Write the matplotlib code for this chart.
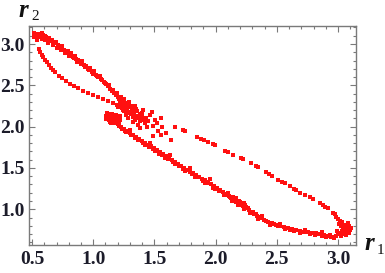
import matplotlib
matplotlib.use('Agg')
import matplotlib.pyplot as plt
from matplotlib.ticker import MultipleLocator

# upper band, from the top-left corner down to the cluster
upper_r1 = [0.516, 0.525, 0.533, 0.541, 0.549, 0.557, 0.565, 0.574, 0.582, 0.590,
            0.598, 0.614, 0.623, 0.639, 0.647, 0.663, 0.680, 0.696, 0.712, 0.729,
            0.745, 0.761, 0.778, 0.794, 0.810, 0.818, 0.835, 0.851, 0.859, 0.876,
            0.892, 0.908, 0.925, 0.941, 0.958, 0.974, 0.990, 1.007, 1.023, 1.039,
            1.056, 1.072, 1.088, 1.105, 1.121, 1.137, 1.154, 1.170, 1.186, 1.203,
            0.606, 0.631, 0.672, 0.704, 0.737, 0.769, 0.802, 0.843, 0.867, 0.900,
            0.933, 0.966, 0.998, 1.031, 1.064, 1.096, 1.129, 1.162, 1.194, 0.541,
            0.516, 0.582, 0.606]
upper_r2 = [3.133, 3.097, 3.121, 3.073, 3.109, 3.085, 3.121, 3.097, 3.060, 3.109,
            3.085, 3.085, 3.060, 3.073, 3.036, 3.048, 3.012, 3.024, 2.988, 2.964,
            2.976, 2.927, 2.903, 2.915, 2.867, 2.891, 2.843, 2.855, 2.819, 2.807,
            2.782, 2.794, 2.746, 2.734, 2.698, 2.710, 2.661, 2.674, 2.625, 2.601,
            2.613, 2.565, 2.541, 2.516, 2.492, 2.456, 2.432, 2.408, 2.383, 2.359,
            3.048, 3.012, 2.988, 2.952, 2.927, 2.891, 2.855, 2.831, 2.782, 2.758,
            2.722, 2.686, 2.637, 2.613, 2.577, 2.528, 2.504, 2.444, 2.408, 3.048,
            3.085, 3.133, 3.097]

# thin inner line below the band
inner_r1 = [0.557, 0.565, 0.582, 0.590, 0.606, 0.623, 0.639, 0.655, 0.672, 0.688,
            0.721, 0.745, 0.778, 0.810, 0.843, 0.876, 0.917, 0.958, 0.998, 1.039,
            1.080, 1.121, 1.162, 1.194]
inner_r2 = [2.940, 2.903, 2.867, 2.843, 2.807, 2.782, 2.746, 2.710, 2.686, 2.661,
            2.613, 2.589, 2.553, 2.516, 2.492, 2.468, 2.432, 2.408, 2.383, 2.359,
            2.335, 2.311, 2.287, 2.262]

# scattered cluster around r1 ~ 1.3
cluster_r1 = [1.211, 1.227, 1.235, 1.252, 1.219, 1.244, 1.268, 1.260, 1.284, 1.276,
              1.301, 1.235, 1.252, 1.293, 1.317, 1.309, 1.333, 1.268, 1.284, 1.325,
              1.350, 1.341, 1.366, 1.382, 1.358, 1.382, 1.399, 1.415, 1.431, 1.423,
              1.448, 1.464, 1.440, 1.489, 1.505, 1.529, 1.554, 1.562, 1.489, 1.554,
              1.636, 1.668, 1.382, 1.407, 1.341, 1.293, 1.203, 1.325, 1.366, 1.481,
              1.521, 1.595, 1.244, 1.317, 1.276, 1.350, 1.227, 1.399]
cluster_r2 = [2.335, 2.359, 2.311, 2.335, 2.287, 2.262, 2.287, 2.238, 2.262, 2.214,
              2.238, 2.226, 2.190, 2.178, 2.202, 2.153, 2.165, 2.141, 2.105, 2.117,
              2.129, 2.081, 2.105, 2.153, 2.190, 2.069, 2.117, 2.081, 2.105, 2.044,
              2.069, 2.141, 1.996, 2.008, 2.081, 1.948, 2.105, 1.996, 1.887, 1.899,
              1.839, 1.996, 1.984, 2.202, 2.250, 2.299, 2.238, 2.057, 2.020, 2.178,
              2.044, 1.924, 2.202, 2.250, 2.165, 2.214, 2.262, 2.165]

# dense blob where the lower branch starts
blob_r1 = [1.105, 1.113, 1.121, 1.129, 1.137, 1.145, 1.154, 1.162, 1.170, 1.178,
           1.186, 1.194, 1.203, 1.211, 1.219, 1.121, 1.137, 1.154, 1.170, 1.186,
           1.105, 1.129, 1.145, 1.162, 1.178, 1.194, 1.211, 1.113, 1.219]
blob_r2 = [2.129, 2.105, 2.153, 2.081, 2.129, 2.105, 2.153, 2.069, 2.117, 2.093,
           2.141, 2.057, 2.105, 2.081, 2.129, 2.117, 2.057, 2.093, 2.141, 2.069,
           2.093, 2.141, 2.044, 2.129, 2.044, 2.117, 2.033, 2.165, 2.081]

# lower branch
lower_r1 = [1.203, 1.227, 1.252, 1.276, 1.301, 1.325, 1.350, 1.374, 1.399, 1.423,
            1.448, 1.472, 1.497, 1.521, 1.546, 1.570, 1.595, 1.619, 1.644, 1.668,
            1.693, 1.717, 1.742, 1.766, 1.791, 1.815, 1.840, 1.864, 1.889, 1.913,
            1.938, 1.962, 1.987, 2.011, 2.036, 2.060, 2.085, 2.109, 2.126, 2.142,
            2.158, 2.175, 2.191, 2.207, 2.224, 2.240, 2.256, 2.273, 2.289, 2.314,
            2.338, 2.363, 2.395, 2.428, 2.461, 2.493, 2.526, 2.559, 2.592, 2.624,
            2.657, 2.690, 2.722, 2.755, 2.788, 2.820, 2.853, 2.886, 2.918, 2.943,
            1.260, 1.342, 1.423, 1.505, 1.587, 1.668, 1.750, 1.832, 1.913, 1.995,
            2.077, 2.134, 2.183, 2.232, 2.281, 2.346, 2.444, 2.567, 2.690, 2.812,
            2.902, 1.301, 1.464, 1.627, 1.791, 1.954, 2.101, 2.166, 2.232, 2.379,
            2.526, 2.730, 2.869,
            1.211, 1.235, 1.268, 1.309, 1.366, 1.407, 1.456, 1.489, 1.538, 1.562,
            1.611, 1.652, 1.701, 1.734, 1.807, 1.848, 1.897, 1.930, 1.979, 2.028,
            2.068, 2.093, 2.117, 2.150, 2.166, 2.199, 2.215, 2.248, 2.264, 2.306,
            2.330, 2.371, 2.412, 2.477, 2.510, 2.608, 2.641, 2.706, 2.771, 2.837,
            2.869, 2.935, 2.959]
lower_r2 = [2.033, 1.996, 1.972, 1.948, 1.924, 1.899, 1.875, 1.851, 1.827, 1.803,
            1.778, 1.766, 1.742, 1.718, 1.694, 1.670, 1.645, 1.621, 1.597, 1.573,
            1.549, 1.525, 1.500, 1.476, 1.452, 1.440, 1.416, 1.392, 1.367, 1.355,
            1.331, 1.307, 1.283, 1.259, 1.235, 1.211, 1.186, 1.162, 1.138, 1.150,
            1.114, 1.090, 1.102, 1.065, 1.041, 1.053, 1.017, 0.993, 0.969, 0.944,
            0.920, 0.896, 0.872, 0.848, 0.836, 0.812, 0.799, 0.787, 0.775, 0.763,
            0.751, 0.739, 0.727, 0.727, 0.715, 0.715, 0.703, 0.691, 0.679, 0.666,
            1.948, 1.863, 1.779, 1.706, 1.621, 1.549, 1.464, 1.392, 1.319, 1.247,
            1.174, 1.102, 1.053, 1.005, 0.957, 0.884, 0.812, 0.763, 0.715, 0.691,
            0.666, 1.960, 1.803, 1.658, 1.500, 1.367, 1.198, 1.138, 1.078, 0.920,
            0.824, 0.751, 0.727,
            2.008, 1.972, 1.936, 1.899, 1.839, 1.803, 1.754, 1.730, 1.670, 1.658,
            1.609, 1.573, 1.525, 1.488, 1.428, 1.392, 1.343, 1.319, 1.259, 1.223,
            1.174, 1.174, 1.150, 1.126, 1.090, 1.090, 1.053, 1.029, 1.017, 0.969,
            0.944, 0.908, 0.860, 0.824, 0.799, 0.751, 0.739, 0.727, 0.703, 0.703,
            0.679, 0.691, 0.666]

# sparse upper-right line
sparse_r1 = [1.734, 1.750, 1.848, 1.881, 1.905, 1.938, 1.979, 1.995, 2.077, 2.101,
             2.142, 2.208, 2.224, 2.289, 2.330, 2.346, 2.412, 2.436, 2.461, 2.510,
             2.542, 2.567, 2.608, 2.641, 2.657, 2.690, 2.730, 2.771, 2.796, 2.853,
             2.877, 2.894, 2.918]
sparse_r2 = [1.960, 1.948, 1.875, 1.851, 1.839, 1.815, 1.791, 1.779, 1.706, 1.694,
             1.658, 1.622, 1.610, 1.561, 1.525, 1.513, 1.452, 1.428, 1.404, 1.355,
             1.331, 1.319, 1.283, 1.247, 1.235, 1.199, 1.174, 1.150, 1.126, 1.078,
             1.053, 1.029, 1.017]

# knot in the lower right corner
corner_r1 = [2.959, 2.975, 2.984, 3.000, 3.016, 3.008, 3.033, 3.025, 3.049, 3.041,
             3.066, 3.057, 3.074, 3.082, 3.090, 3.082, 3.066, 3.090, 3.033, 3.016,
             3.000, 2.984, 2.967, 2.992, 3.049, 3.025, 3.098, 3.106]
corner_r2 = [0.957, 0.944, 0.908, 0.884, 0.860, 0.824, 0.848, 0.799, 0.812, 0.775,
             0.787, 0.751, 0.727, 0.763, 0.799, 0.836, 0.691, 0.715, 0.739, 0.715,
             0.703, 0.679, 0.655, 0.739, 0.703, 0.679, 0.751, 0.775]

x_ticks = [0.5, 1.0, 1.5, 2.0, 2.5, 3.0]
y_ticks = [1.0, 1.5, 2.0, 2.5, 3.0]

fig = plt.figure(figsize=(3.85, 2.73), dpi=100)
ax = fig.add_axes([0.0753, 0.1026, 0.8494, 0.8022])

segments = [(upper_r1, upper_r2), (inner_r1, inner_r2), (cluster_r1, cluster_r2),
            (blob_r1, blob_r2), (lower_r1, lower_r2), (sparse_r1, sparse_r2),
            (corner_r1, corner_r2)]
for xs, ys in segments:
    ax.plot(xs, ys, linestyle='none', marker='s', ms=2.2, mew=0, color='#ff1010')

ax.set_xlim(0.475, 3.147)
ax.set_ylim(0.568, 3.218)
ax.set_xticks(x_ticks)
ax.set_yticks(y_ticks)
ax.set_xticklabels(['%.1f' % v for v in x_ticks])
ax.set_yticklabels(['%.1f' % v for v in y_ticks])
ax.xaxis.set_minor_locator(MultipleLocator(0.1))
ax.yaxis.set_minor_locator(MultipleLocator(0.1))

frame_col = '#7a7a7a'
for sp in ax.spines.values():
    sp.set_color(frame_col)
    sp.set_linewidth(1.0)
ax.tick_params(which='both', direction='in', top=True, right=True,
               color=frame_col, width=0.8)
ax.tick_params(which='major', length=4)
ax.tick_params(which='minor', length=2)
ax.tick_params(axis='x', pad=4)
ax.tick_params(axis='y', pad=3)
for lab in ax.get_xticklabels() + ax.get_yticklabels():
    lab.set_fontfamily('Liberation Serif')
    lab.set_fontweight('bold')
    lab.set_fontsize(14)
    lab.set_color('#1c1c2a')

# axis names in the corners, Mathematica style
fig.text(18 / 385, 1 - 17 / 273, 'r', family='Liberation Serif', weight='bold',
         style='italic', fontsize=18, va='baseline', color='#111111')
fig.text(31 / 385, 1 - 20 / 273, '2', family='Liberation Serif',
         fontsize=11, va='baseline', color='#111111')
fig.text(364 / 385, 1 - 250 / 273, 'r', family='Liberation Serif', weight='bold',
         style='italic', fontsize=18, va='baseline', color='#111111')
fig.text(377 / 385, 1 - 254 / 273, '1', family='Liberation Serif',
         fontsize=11, va='baseline', color='#111111')

plt.savefig('out.png', dpi=100)
plt.close()
